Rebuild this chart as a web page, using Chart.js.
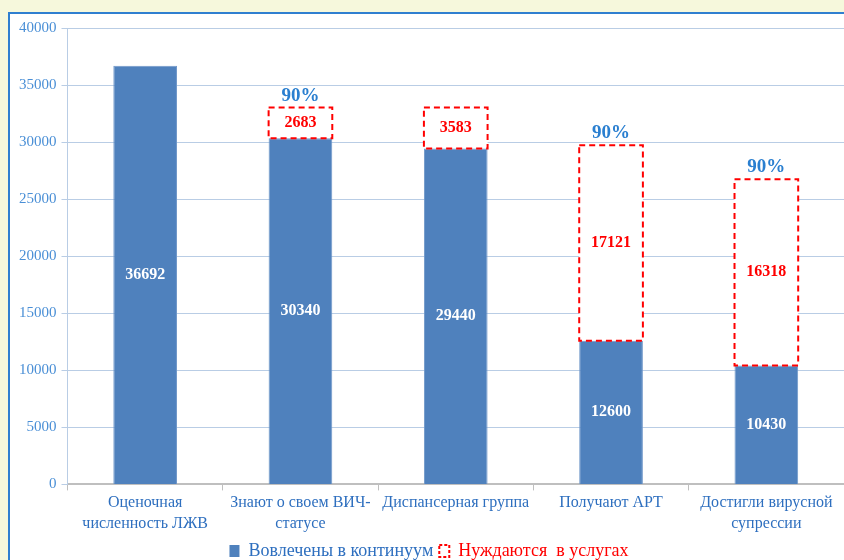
<!DOCTYPE html>
<html>
<head>
<meta charset="utf-8">
<script src="https://cdn.jsdelivr.net/npm/chart.js@4/dist/chart.umd.min.js"></script>
<style>
  html, body { margin: 0; padding: 0; background: #f6f8dc; width: 844px; height: 560px; overflow: hidden; }
  #panel {
    position: absolute; left: 8px; top: 12px; width: 860px; height: 600px;
    border-left: 2px solid #2f7fd0; border-top: 2px solid #2f7fd0; background: #fff;
  }
  #wrap { position: absolute; left: 0; top: 0; width: 834px; height: 556px; }
</style>
</head>
<body>
<div id="panel"><div id="wrap"><canvas id="grafico"></canvas></div></div>
<script>
const categorias = [
  ['Оценочная', 'численность ЛЖВ'],
  ['Знают о своем ВИЧ-', 'статусе'],
  'Диспансерная группа',
  'Получают АРТ',
  ['Достигли вирусной', 'супрессии']
];
const vovlecheny = [36692, 30340, 29440, 12600, 10430];
const nuzhdayutsya = [null, 2683, 3583, 17121, 16318];
const procenty = ['', '90%', '', '90%', '90%'];

const SERIF = '"Liberation Serif", "DejaVu Serif", serif';
const AZUL = '#4f81bd';
const ROJO = '#ff0000';

// dashed red boxes and text labels on top of the bars
const etiquetasPlugin = {
  id: 'etiquetas',
  afterDatasetsDraw: function (chart) {
    const ctx = chart.ctx;
    const metaAzul = chart.getDatasetMeta(0);
    const metaRojo = chart.getDatasetMeta(1);
    ctx.save();

    metaRojo.data.forEach(function (el, i) {
      if (nuzhdayutsya[i] == null) return;
      const x0 = el.x - el.width / 2;
      ctx.setLineDash([6, 4]);
      ctx.lineWidth = 2;
      ctx.strokeStyle = ROJO;
      ctx.strokeRect(x0, el.y, el.width, el.base - el.y);
    });
    ctx.setLineDash([]);

    ctx.textAlign = 'center';
    ctx.textBaseline = 'middle';
    ctx.font = 'bold 16px ' + SERIF;
    metaAzul.data.forEach(function (el, i) {
      ctx.fillStyle = '#ffffff';
      ctx.fillText(String(vovlecheny[i]), el.x, (el.y + el.base) / 2);
    });
    metaRojo.data.forEach(function (el, i) {
      if (nuzhdayutsya[i] == null) return;
      ctx.fillStyle = ROJO;
      ctx.fillText(String(nuzhdayutsya[i]), el.x, (el.y + el.base) / 2);
    });

    ctx.font = 'bold 19px ' + SERIF;
    ctx.fillStyle = '#2a7fd0';
    metaRojo.data.forEach(function (el, i) {
      if (!procenty[i]) return;
      ctx.fillText(procenty[i], el.x, el.y - 12);
    });
    ctx.restore();
  }
};

new Chart(document.getElementById('grafico').getContext('2d'), {
  type: 'bar',
  data: {
    labels: categorias,
    datasets: [
      {
        label: 'Вовлечены в континуум',
        data: vovlecheny,
        backgroundColor: AZUL,
        borderColor: '#6f97c9',
        borderWidth: 1,
        barPercentage: 0.41,
        categoryPercentage: 1
      },
      {
        label: 'Нуждаются  в услугах',
        data: nuzhdayutsya,
        backgroundColor: '#ffffff',
        borderWidth: 0,
        barPercentage: 0.41,
        categoryPercentage: 1
      }
    ]
  },
  options: {
    responsive: true,
    maintainAspectRatio: false,
    animation: false,
    layout: { padding: { top: 6, right: 0, left: 4, bottom: 0 } },
    scales: {
      x: {
        stacked: true,
        grid: { drawOnChartArea: false, color: '#bfbfbf', tickLength: 6, offset: true },
        border: { color: '#bfbfbf', width: 2 },
        ticks: {
          color: '#2e6fbf',
          font: { family: SERIF, size: 16, lineHeight: 1.3 },
          maxRotation: 0,
          autoSkip: false,
          padding: 2
        }
      },
      y: {
        stacked: true,
        min: 0,
        max: 40000,
        ticks: {
          stepSize: 5000,
          color: '#4a8fd6',
          font: { family: SERIF, size: 15 },
          padding: 5,
          callback: function (v) { return String(v); }
        },
        grid: { color: '#b9cde5', tickLength: 6 },
        border: { color: '#b9cde5' }
      }
    },
    plugins: {
      legend: {
        position: 'bottom',
        labels: {
          font: { family: SERIF, size: 18 },
          boxWidth: 10,
          boxHeight: 12,
          padding: 6,
          generateLabels: function () {
            return [
              { text: 'Вовлечены в континуум', fillStyle: AZUL, strokeStyle: AZUL, lineWidth: 0, fontColor: '#2e6fbf', datasetIndex: 0 },
              { text: 'Нуждаются  в услугах', fillStyle: '#ffffff', strokeStyle: ROJO, lineWidth: 2, lineDash: [3, 2], fontColor: ROJO, datasetIndex: 1 }
            ];
          }
        }
      },
      tooltip: { enabled: false }
    }
  },
  plugins: [etiquetasPlugin]
});
</script>
</body>
</html>
